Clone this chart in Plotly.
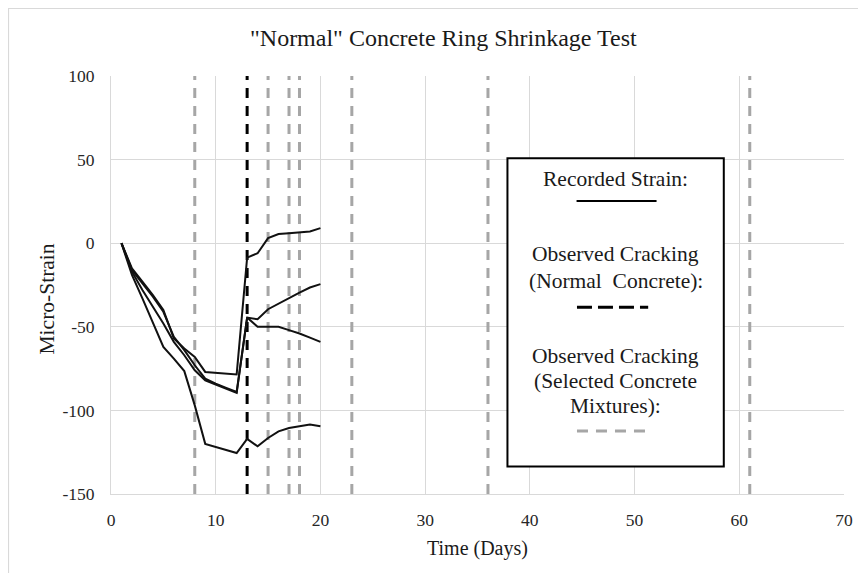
import plotly.graph_objects as go

# ---------------- data ----------------
days = list(range(1, 21))
strain_a = [0, -15, -23, -31, -40, -57, -63, -68, -77, -77.5, -78, -78.5, -8.6, -6, 3, 5.5, 6, 6.5, 7, 9]
strain_b = [0, -16, -24, -32, -41, -56, -64, -73, -81, -84, -86.5, -89, -44.5, -45.5, -39.5, -36, -32.5, -29.5, -26.5, -24.5]
strain_c = [0, -17, -28, -38, -48, -59, -67, -76, -82, -84.5, -87, -89.5, -44.5, -50, -50, -50, -52, -54, -56.5, -59]
days_d = [1, 2, 3, 4, 5, 6, 7, 8, 9, 12, 13, 14, 15, 16, 17, 18, 19, 20]
strain_d = [0, -19, -33, -48, -62, -69, -76.5, -97, -120, -125.5, -117, -121.5, -116.5, -112.5, -110.5, -109.5, -108.5, -109.5]

crack_normal_days = [13]
crack_selected_days = [8, 15, 17, 18, 23, 36, 61]

x_ticks = [0, 10, 20, 30, 40, 50, 60, 70]
y_ticks = [-150, -100, -50, 0, 50, 100]
y_tick_labels = ["-150", "-100", "-50", "0", "50", "100"]

title_text = '"Normal" Concrete Ring Shrinkage Test'
x_title = "Time (Days)"
y_title = "Micro-Strain"

FONT = "Liberation Serif"
GRAY = "#a6a6a6"
TXT = "#1a1a1a"

# page has an 8px body margin: figure sized/margined so plot area lands at x 111..844, y 76..494
W, H = 858, 565
ML, MT, MR, MB = 103, 68, 22, 79
PW = W - ML - MR
PH = H - MT - MB
OX, OY = 8 + ML, 8 + MT  # page pixel of plot-area top-left


def px(xp):
    return (xp - OX) / PW


def py(yp):
    return (OY + PH - yp) / PH


fig = go.Figure()

# vertical cracking lines (behind series)
for d in crack_selected_days:
    fig.add_trace(go.Scatter(x=[d, d], y=[y_ticks[0], y_ticks[-1]], mode="lines",
                             line=dict(color=GRAY, width=3, dash="10px,8px"),
                             hoverinfo="skip", showlegend=False))
for d in crack_normal_days:
    fig.add_trace(go.Scatter(x=[d, d], y=[y_ticks[0], y_ticks[-1]], mode="lines",
                             line=dict(color="black", width=3, dash="10px,8px"),
                             hoverinfo="skip", showlegend=False))

# recorded strain series
for xs, ys in [(days, strain_a), (days, strain_b), (days, strain_c), (days_d, strain_d)]:
    fig.add_trace(go.Scatter(x=xs, y=ys, mode="lines",
                             line=dict(color="#111111", width=2),
                             showlegend=False))

# chart-area border (Excel style)
fig.add_shape(type="path", xref="paper", yref="paper",
              path=f"M {px(8.5)} {py(600)} L {px(8.5)} {py(8.5)} L {px(861.5)} {py(8.5)} L {px(861.5)} {py(600)}",
              line=dict(color="#d9d9d9", width=1.2), layer="below")

# custom legend box
bx0, bx1, by0, by1 = 37.86, 58.52, -133.5, 50.8
fig.add_shape(type="rect", xref="x", yref="y", x0=bx0, x1=bx1, y0=by0, y1=by1,
              line=dict(color="black", width=2), fillcolor="white", layer="above")
fig.add_shape(type="line", xref="x", yref="y", x0=44.46, x1=52.1, y0=25.3, y1=25.3,
              line=dict(color="black", width=2), layer="above")
fig.add_shape(type="line", xref="x", yref="y", x0=44.5, x1=51.3, y0=-38.3, y1=-38.3,
              line=dict(color="black", width=3, dash="15px,6px"), layer="above")
fig.add_shape(type="line", xref="x", yref="y", x0=44.5, x1=51.3, y0=-112.3, y1=-112.3,
              line=dict(color=GRAY, width=3, dash="11px,8px"), layer="above")

cx = (bx0 + bx1) / 2
legend_texts = [
    ("Recorded Strain:", 38.3),
    ("Observed Cracking", -6.6),
    ("(Normal  Concrete):", -22.5),
    ("Observed Cracking", -67.4),
    ("(Selected Concrete", -82.4),
    ("Mixtures):", -97.3),
]
for t, yy in legend_texts:
    fig.add_annotation(x=cx, y=yy, xref="x", yref="y", text=t.replace("  ", "&nbsp; "),
                       showarrow=False, font=dict(family=FONT, size=21.5, color=TXT),
                       xanchor="center", yanchor="middle")

# titles
fig.add_annotation(x=px(443.5), y=py(38), xref="paper", yref="paper", text=title_text,
                   showarrow=False, font=dict(family=FONT, size=24, color=TXT),
                   xanchor="center", yanchor="middle")
fig.add_annotation(x=px(477.5), y=py(548), xref="paper", yref="paper",
                   text=x_title, showarrow=False,
                   font=dict(family=FONT, size=20, color=TXT),
                   xanchor="center", yanchor="middle")
fig.add_annotation(x=px(46.5), y=py(299), xref="paper", yref="paper",
                   text=y_title, showarrow=False, textangle=-90,
                   font=dict(family=FONT, size=21.5, color=TXT),
                   xanchor="center", yanchor="middle")

fig.update_layout(
    width=W, height=H,
    margin=dict(l=ML, r=MR, t=MT, b=MB),
    paper_bgcolor="white", plot_bgcolor="white",
    showlegend=False,
    xaxis=dict(range=[x_ticks[0], x_ticks[-1]], tickvals=x_ticks, showgrid=True,
               gridcolor="#d9d9d9", gridwidth=1, showline=True, linecolor="#d9d9d9",
               linewidth=1, zeroline=False, ticks="", ticklabelstandoff=10,
               tickfont=dict(family=FONT, size=17.5, color="#262626")),
    yaxis=dict(range=[y_ticks[0], y_ticks[-1]], tickvals=y_ticks, ticktext=y_tick_labels,
               showgrid=True,
               gridcolor="#d9d9d9", gridwidth=1, showline=True, linecolor="#d9d9d9",
               linewidth=1, zeroline=False, ticks="", ticklabelstandoff=12,
               tickfont=dict(family=FONT, size=17.5, color="#262626")),
)

fig.write_html("out.html")
